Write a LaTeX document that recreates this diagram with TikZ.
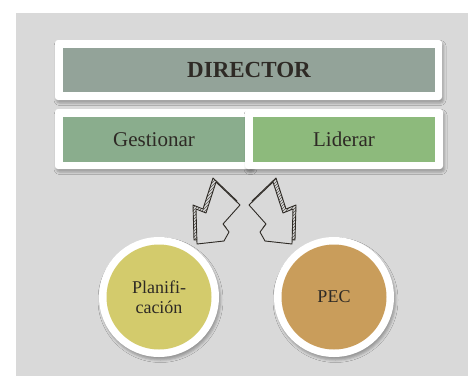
\documentclass[tikz,border=0pt]{standalone}
\usepackage{fontspec}
\setmainfont{Liberation Serif}
\usetikzlibrary{shadows.blur,patterns}
\definecolor{bgray}{HTML}{D9D9D9}
\definecolor{dirfill}{HTML}{93A399}
\definecolor{gesfill}{HTML}{8AAD8D}
\definecolor{lidfill}{HTML}{8DBA7C}
\definecolor{plafill}{HTML}{D3CB6C}
\definecolor{pecfill}{HTML}{C99D5B}
\definecolor{ink}{HTML}{2E2A25}
\tikzset{
  softshadow/.style={blur shadow={shadow xshift=1.5pt, shadow yshift=-3pt,
      shadow blur radius=2.5pt, shadow opacity=30}},
  framebox/.style={draw=none, fill=white, rounded corners=3pt,
      minimum width=198pt, minimum height=60pt, inner sep=0pt, softshadow},
  innerbox/.style={draw=none, minimum width=182pt, minimum height=45pt,
      inner sep=0pt, text=ink, font=\fontsize{21}{25}\selectfont},
  framecircle/.style={circle, fill=white, minimum size=120pt, inner sep=0pt, softshadow},
  innercircle/.style={circle, minimum size=105pt, inner sep=0pt, text=ink,
      align=center, font=\fontsize{18}{20}\selectfont},
  arrowface/.style={draw=ink, line width=0.9pt, fill=bgray, line join=round},
  arrowback/.style={draw=ink, line width=0.9pt, pattern=north east lines,
      pattern color=ink!80, line join=round},
}
\begin{document}
\begin{tikzpicture}[x=1pt,y=-1pt]
\useasboundingbox (0,0) rectangle (476,383);
\fill[white] (0,0) rectangle (476,383);
\fill[bgray] (16,13) rectangle (468,376);

% top box
\node[framebox, minimum width=387pt] (dirframe) at (248.5,70) {};
\node[innerbox, fill=dirfill, minimum width=372pt, minimum height=44pt,
      font=\fontsize{23}{27}\selectfont\bfseries] (director) at (249,70) {DIRECTOR};

% second row
\node[framebox] (gesframe) at (154,139) {};
\node[innerbox, fill=gesfill] (gestionar) at (154,139.5) {Gestionar};
\node[framebox] (lidframe) at (344,139) {};
\node[innerbox, fill=lidfill] (liderar) at (344,139.5) {Liderar};

% hatched zigzag arrows
\def\zigzag{(216,182) -- (240,205) -- (223,224) -- (229,232) -- (224,241)
  -- (197,244) -- (196,209) -- (206,213) -- cycle}
\begin{scope}
  \draw[arrowback, shift={(-3pt,4pt)}] \zigzag;
  \draw[arrowface] \zigzag;
\end{scope}
\begin{scope}[xshift=489pt, xscale=-1]
  \draw[arrowback, shift={(-3pt,4pt)}] \zigzag;
  \draw[arrowface] \zigzag;
\end{scope}

% circles
\node[framecircle] (plaframe) at (159,297) {};
\node[innercircle, fill=plafill] (planificacion) at (159,297) {Planifi-\\cación};
\node[framecircle] (pecframe) at (334,297) {};
\node[innercircle, fill=pecfill] (pec) at (334,297) {PEC};
\end{tikzpicture}
\end{document}
